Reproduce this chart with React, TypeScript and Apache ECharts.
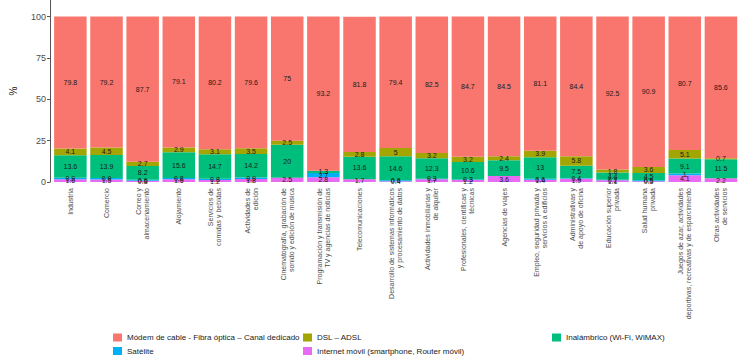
import React, { useEffect, useRef } from "react";
import * as echarts from "echarts";

const categories = [
  "Industria",
  "Comercio",
  "Correo y\nalmacenamiento",
  "Alojamiento",
  "Servicios de\ncomidas y bebidas",
  "Actividades de\nedición",
  "Cinematografía, grabación de\nsonido y edición de música",
  "Programación y transmisión de\nTV y agencias de noticias",
  "Telecomunicaciones",
  "Desarrollo de sistemas informáticos\ny procesamiento de datos",
  "Actividades inmobiliarias y\nde alquiler",
  "Profesionales, científicas y\ntécnicas",
  "Agencias de viajes",
  "Empleo, seguridad privada y\nservicios a edificios",
  "Administrativas y\nde apoyo de oficina",
  "Educación superior\nprivada",
  "Salud humana\nprivada",
  "Juegos de azar, actividades\ndeportivas, recreativas y de esparcimiento",
  "Otras actividades\nde servicios",
];

const modem = [79.8, 79.2, 87.7, 79.1, 80.2, 79.6, 75, 93.2, 81.8, 79.4, 82.5, 84.7, 84.5, 81.1, 84.4, 92.5, 90.9, 80.7, 85.6];
const dsl = [4.1, 4.5, 2.7, 2.9, 3.1, 3.5, 2.5, 0, 2.8, 5, 3.2, 3.2, 2.4, 3.9, 5.8, 1.8, 3.6, 5.1, 0.7];
const inalambrico = [13.6, 13.9, 8.2, 15.6, 14.7, 14.2, 20, 1.3, 13.6, 14.6, 12.3, 10.6, 9.5, 13, 7.5, 4.4, 4.5, 9.1, 11.5];
const satelite = [0.9, 0.9, 0.6, 0.8, 0.8, 0.9, 0, 2.7, 0, 0.6, 0.3, 0.3, 0, 0.6, 0.4, 0.2, 0.5, 1, 0];
const movil = [1.6, 1.5, 0.8, 1.6, 1.2, 1.8, 2.5, 2.8, 1.7, 0.4, 1.7, 1.2, 3.6, 1.4, 1.9, 1.1, 0.5, 4.1, 2.2];

const yTicks = [0, 25, 50, 75, 100];

const seriesNames = [
  "Módem de cable - Fibra óptica – Canal dedicado",
  "DSL – ADSL",
  "Inalámbrico (Wi-Fi, WiMAX)",
  "Satélite",
  "Internet móvil (smartphone, Router móvil)",
];
const seriesColors = ["#F8766D", "#A3A500", "#00BF7D", "#00B0F6", "#E76BF3"];

const FONT = "'Liberation Sans', Arial, sans-serif";

export default function App() {
  const ref = useRef<HTMLDivElement>(null);

  useEffect(() => {
    if (!ref.current) return;
    const chart = echarts.init(ref.current, undefined, { renderer: "svg" });

    const valuesByName: Record<string, number[]> = {
      [seriesNames[0]]: modem,
      [seriesNames[1]]: dsl,
      [seriesNames[2]]: inalambrico,
      [seriesNames[3]]: satelite,
      [seriesNames[4]]: movil,
    };
    // stacking order bottom -> top
    const stackOrder = [4, 3, 2, 1, 0];
    const series = stackOrder.map((i) => ({
      name: seriesNames[i],
      type: "bar",
      stack: "total",
      barCategoryGap: "10%",
      data: valuesByName[seriesNames[i]],
      itemStyle: { color: seriesColors[i] },
      label: {
        show: true,
        position: "inside",
        fontSize: 7,
        fontFamily: FONT,
        color: "#1a1a1a",
        formatter: (p: any) => (p.value ? String(p.value) : ""),
      },
    }));

    const legendPos = [
      { left: 113, top: 333.5 },
      { left: 303, top: 333.5 },
      { left: 552, top: 333.5 },
      { left: 113, top: 347 },
      { left: 303, top: 347 },
    ];
    const legends = seriesNames.map((n, i) => ({
      data: [n],
      left: legendPos[i].left,
      top: legendPos[i].top,
      padding: 0,
      icon: "rect",
      itemWidth: 9,
      itemHeight: 8,
      itemGap: 0,
      selectedMode: false,
      textStyle: { fontSize: 8, fontFamily: FONT, color: "#1a1a1a", padding: [0, 0, 0, 0] },
    }));

    chart.setOption({
      animation: false,
      textStyle: { fontFamily: FONT },
      grid: { left: 50.6, right: -10.4, top: 0, bottom: 178, containLabel: false },
      legend: legends,
      xAxis: {
        type: "category",
        data: categories,
        axisLine: { show: false },
        axisTick: { show: false },
        axisLabel: {
          rotate: 90,
          interval: 0,
          fontSize: 7,
          lineHeight: 8,
          margin: 6,
          color: "#4D4D4D",
          fontFamily: FONT,
          align: "right",
          verticalAlign: "middle",
        },
      },
      yAxis: {
        type: "value",
        min: 0,
        max: 110,
        interval: 25,
        offset: 2.3,
        name: "%",
        nameLocation: "middle",
        nameGap: 32,
        nameRotate: 90,
        nameTextStyle: { fontSize: 10, color: "#1a1a1a", fontFamily: FONT },
        splitLine: { show: false },
        axisLine: { show: true, lineStyle: { color: "#555", width: 1 } },
        axisTick: { show: true, length: 3, lineStyle: { color: "#555" } },
        axisLabel: {
          fontSize: 9,
          color: "#4D4D4D",
          margin: 4,
          fontFamily: FONT,
          showMaxLabel: false,
          formatter: (v: number) => (yTicks.includes(v) ? String(v) : ""),
        },
      },
      series,
    });

    return () => chart.dispose();
  }, []);

  return (
    <div
      ref={ref}
      style={{ position: "fixed", left: 0, top: 0, width: 739, height: 360, background: "#fff" }}
    />
  );
}
